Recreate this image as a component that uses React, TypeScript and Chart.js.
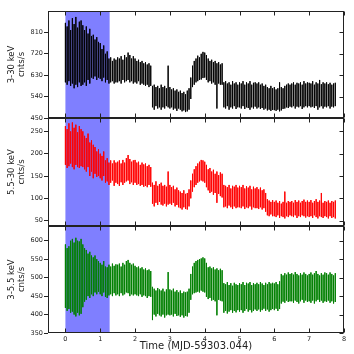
import React, { useEffect, useRef } from "react";
import { Chart, registerables } from "chart.js";

Chart.register(...registerables);

// time sampling of the light curves (days since MJD 59303.044)
const T_STEP = 0.05;
const SPAN_START = 0;
const SPAN_END = 1.27;
const X_MIN = -0.5;
const X_MAX = 8;
const X_TICKS = [0, 1, 2, 3, 4, 5, 6, 7, 8];
const X_TITLE = "Time (MJD-59303.044)";

// ---- 3-30 keV (upper / lower envelope per time bin) ----
const band1Hi = [
  850, 835, 860, 820, 870, 845, 875, 830, 855, 860,
  840, 820, 835, 805, 825, 795, 800, 780, 790, 770,
  765, 740, 755, 720, 730, 700, 705, 690, 700, 695,
  705, 700, 710, 695, 715, 705, 725, 715, 700, 710,
  700, 690, 695, 685, 690, 680, 685, 675, 680, 670,
  585, 590, 580, 585, 575, 590, 580, 585, 575, 670,
  580, 570, 575, 565, 570, 560, 565, 555, 560, 550,
  565, 575, 620, 670, 690, 700, 712, 705, 720, 728,
  725, 715, 700, 690, 695, 685, 690, 680, 685, 675,
  680, 600, 605, 595, 600, 590, 605, 595, 600, 590,
  600, 595, 605, 590, 600, 595, 605, 590, 598, 600,
  595, 600, 590, 595, 585, 590, 580, 575, 585, 575,
  580, 570, 575, 600, 580, 575, 585, 590, 595, 590,
  595, 600, 590, 598, 595, 600, 590, 605, 595, 600,
  598, 595, 605, 590, 600, 595, 610, 592, 600, 595,
  600, 592, 598, 590, 595, 598,
];
const band1Lo = [
  600, 590, 605, 585, 595, 575, 590, 580, 600, 585,
  590, 600, 585, 610, 595, 620, 615, 625, 610, 620,
  615, 605, 620, 600, 610, 595, 600, 605, 595, 600,
  600, 605, 595, 610, 600, 605, 610, 600, 605, 595,
  600, 595, 605, 590, 595, 590, 585, 590, 580, 585,
  495, 485, 500, 490, 495, 485, 495, 490, 500, 495,
  490, 495, 485, 490, 480, 490, 485, 478, 482, 475,
  478, 485, 530, 580, 590, 600, 605, 610, 612, 618,
  620, 610, 600, 605, 595, 600, 590, 490, 595, 590,
  590, 495, 490, 500, 485, 495, 490, 500, 488, 495,
  495, 490, 500, 488, 495, 492, 485, 495, 490, 498,
  490, 495, 488, 492, 485, 490, 482, 485, 480, 484,
  483, 480, 485, 478, 482, 488, 490, 495, 492, 498,
  495, 500, 490, 498, 495, 500, 488, 495, 500, 495,
  500, 495, 498, 492, 500, 485, 495, 500, 490, 498,
  495, 500, 490, 498, 495, 500,
];

// ---- 5.5-30 keV ----
const band2Hi = [
  262, 255, 268, 250, 270, 258, 265, 248, 262, 255,
  250, 240, 235, 245, 225, 230, 220, 215, 205, 210,
  200, 195, 205, 185, 190, 180, 185, 178, 185, 180,
  182, 185, 178, 186, 180, 190, 197, 188, 182, 185,
  186, 180, 182, 175, 180, 176, 178, 172, 175, 170,
  135, 130, 138, 128, 132, 135, 128, 130, 126, 160,
  130, 125, 128, 120, 124, 118, 115, 112, 118, 110,
  112, 120, 140, 155, 165, 172, 178, 182, 186, 185,
  182, 175, 165, 168, 160, 164, 155, 160, 152, 158,
  155, 130, 128, 125, 130, 122, 128, 126, 130, 124,
  128, 125, 130, 122, 127, 124, 128, 120, 126, 122,
  125, 120, 124, 118, 120, 112, 98, 95, 92, 96,
  92, 95, 90, 94, 88, 92, 115, 90, 94, 92,
  94, 90, 96, 92, 95, 90, 94, 97, 92, 95,
  92, 96, 90, 94, 98, 92, 95, 112, 90, 94,
  92, 95, 90, 94, 92, 95,
];
const band2Lo = [
  175, 168, 172, 178, 170, 165, 175, 170, 168, 172,
  170, 165, 160, 170, 150, 160, 145, 155, 148, 150,
  145, 140, 150, 135, 138, 130, 135, 140, 128, 135,
  132, 128, 136, 130, 135, 138, 140, 132, 136, 130,
  135, 130, 132, 128, 130, 126, 128, 125, 130, 126,
  88, 82, 90, 85, 92, 86, 84, 88, 82, 86,
  88, 85, 90, 82, 85, 80, 78, 75, 80, 76,
  75, 82, 100, 115, 125, 130, 135, 138, 140, 138,
  135, 125, 118, 112, 115, 108, 112, 90, 110, 105,
  102, 80, 82, 78, 84, 80, 76, 82, 78, 80,
  80, 78, 82, 76, 80, 78, 82, 75, 80, 78,
  78, 76, 80, 75, 78, 70, 62, 60, 64, 60,
  60, 58, 62, 56, 60, 58, 55, 60, 58, 62,
  60, 58, 62, 56, 60, 58, 62, 60, 57, 60,
  58, 60, 56, 62, 58, 55, 60, 58, 56, 60,
  58, 55, 60, 56, 58, 55,
];

// ---- 3-5.5 keV ----
const band3Hi = [
  590, 580, 585, 600, 605, 595, 608, 600, 598, 605,
  590, 580, 575, 565, 570, 560, 555, 560, 550, 545,
  540, 535, 545, 530, 528, 535, 530, 538, 532, 536,
  535, 538, 530, 540, 535, 545, 548, 540, 535, 538,
  532, 528, 530, 525, 528, 522, 525, 520, 522, 518,
  475, 470, 465, 472, 468, 465, 470, 462, 468, 515,
  468, 465, 470, 462, 466, 460, 465, 458, 462, 460,
  462, 470, 510, 530, 540, 545, 548, 550, 552, 555,
  552, 540, 528, 530, 525, 528, 522, 525, 520, 524,
  520, 485, 482, 488, 480, 485, 478, 486, 482, 480,
  485, 482, 488, 480, 486, 484, 488, 480, 485, 482,
  486, 482, 488, 484, 480, 486, 482, 488, 484, 486,
  484, 488, 482, 490, 510, 506, 512, 508, 514, 510,
  512, 508, 515, 510, 506, 512, 508, 514, 510, 506,
  510, 514, 508, 512, 518, 510, 506, 512, 508, 514,
  512, 508, 514, 510, 506, 512,
];
const band3Lo = [
  418, 410, 415, 405, 408, 400, 395, 405, 398, 402,
  420, 435, 440, 450, 445, 455, 450, 460, 455, 462,
  455, 450, 460, 448, 445, 452, 455, 450, 458, 452,
  455, 450, 458, 452, 455, 460, 458, 450, 455, 452,
  455, 452, 450, 455, 448, 452, 450, 445, 450, 448,
  385, 400, 395, 402, 398, 395, 400, 392, 398, 400,
  398, 400, 395, 402, 396, 398, 394, 398, 392, 396,
  395, 405, 440, 455, 458, 460, 462, 460, 465, 462,
  460, 448, 442, 445, 438, 440, 436, 398, 440, 438,
  436, 405, 410, 403, 408, 412, 405, 410, 406, 412,
  408, 412, 405, 410, 415, 408, 412, 406, 410, 414,
  410, 414, 408, 412, 416, 410, 414, 408, 412, 415,
  412, 416, 410, 415, 430, 435, 432, 438, 434, 436,
  436, 432, 438, 434, 430, 436, 440, 432, 438, 434,
  436, 432, 438, 430, 436, 440, 434, 438, 432, 436,
  434, 438, 432, 436, 430, 434,
];

const band1Ticks = [450, 540, 630, 720, 810];
const band2Ticks = [50, 100, 150, 200, 250];
const band3Ticks = [350, 400, 450, 500, 550, 600];

const FONT = "'DejaVu Sans', sans-serif";
const INK = "#222";

// one vertical stroke (lower to upper envelope) per time bin
function strokes(hi: number[], lo: number[]) {
  const pts: { x: number; y: number | null }[] = [];
  for (let i = 0; i < hi.length; i++) {
    const t = i * T_STEP;
    pts.push({ x: t, y: hi[i] });
    pts.push({ x: t, y: lo[i] });
    pts.push({ x: t, y: null });
  }
  return pts;
}

const framePlugin = {
  id: "frame",
  beforeDatasetsDraw(chart: any) {
    const { ctx, chartArea: a, scales } = chart;
    const x = scales.x;
    const x0 = x.getPixelForValue(SPAN_START);
    const x1 = x.getPixelForValue(SPAN_END);
    ctx.save();
    ctx.fillStyle = "rgba(0,0,255,0.5)";
    ctx.fillRect(x0, a.top, x1 - x0, a.bottom - a.top);
    ctx.restore();
  },
  afterDraw(chart: any) {
    const { ctx, chartArea: a, scales } = chart;
    const x = scales.x;
    const y = scales.y;
    ctx.save();
    ctx.strokeStyle = INK;
    ctx.lineWidth = 1;
    const L = Math.round(a.left) + 0.5;
    const R = Math.round(a.right) - 0.5;
    const T = Math.round(a.top) + 0.5;
    const B = Math.round(a.bottom) - 0.5;
    ctx.strokeRect(L, T, R - L, B - T);
    ctx.beginPath();
    for (const v of X_TICKS) {
      const px = Math.round(x.getPixelForValue(v)) + 0.5;
      ctx.moveTo(px, T);
      ctx.lineTo(px, T + 4);
      ctx.moveTo(px, B);
      ctx.lineTo(px, B - 4);
    }
    for (const tk of y.ticks) {
      const py = Math.round(y.getPixelForValue(tk.value)) + 0.5;
      ctx.moveTo(R, py);
      ctx.lineTo(R - 4, py);
    }
    ctx.stroke();
    ctx.restore();
  },
};

type PanelProps = {
  top: number;
  height: number;
  padTop: number;
  padBottom: number;
  hi: number[];
  lo: number[];
  color: string;
  yMin: number;
  yMax: number;
  yTicks: number[];
  title: string[];
  showX: boolean;
};

function Panel(p: PanelProps) {
  const ref = useRef<HTMLCanvasElement>(null);
  useEffect(() => {
    const chart = new Chart(ref.current as HTMLCanvasElement, {
      type: "line",
      data: {
        datasets: [
          {
            data: strokes(p.hi, p.lo),
            borderColor: p.color,
            borderWidth: 1,
            pointRadius: 0,
            tension: 0,
            fill: false,
            spanGaps: false,
          },
        ],
      },
      options: {
        animation: false,
        responsive: false,
        devicePixelRatio: 1,
        layout: { padding: { top: p.padTop, bottom: p.padBottom, left: 0, right: 10 } },
        plugins: { legend: { display: false }, tooltip: { enabled: false } },
        scales: {
          x: {
            type: "linear",
            min: X_MIN,
            max: X_MAX,
            display: p.showX,
            afterBuildTicks: (s: any) => {
              s.ticks = X_TICKS.map((v) => ({ value: v }));
            },
            afterFit: (s: any) => {
              if (p.showX) s.height = 21;
            },
            grid: { display: false, drawTicks: false },
            border: { display: false },
            ticks: { font: { size: 6.5, family: FONT }, color: INK, padding: 2, maxRotation: 0 },
            title: {
              display: true,
              text: X_TITLE,
              font: { size: 10, family: FONT },
              color: INK,
              padding: { top: 0, bottom: 2 },
            },
          },
          y: {
            type: "linear",
            min: p.yMin,
            max: p.yMax,
            afterBuildTicks: (s: any) => {
              s.ticks = p.yTicks.map((v) => ({ value: v }));
            },
            afterFit: (s: any) => {
              s.width = 48;
            },
            grid: { drawOnChartArea: false, drawTicks: true, tickLength: 4, tickColor: INK },
            border: { display: false },
            ticks: { font: { size: 6.5, family: FONT }, color: INK, padding: 1 },
            title: {
              display: true,
              text: p.title,
              font: { size: 8.5, family: FONT, lineHeight: 1.25 },
              color: INK,
              padding: { top: 6, bottom: 0 },
            },
          },
        },
      },
      plugins: [framePlugin],
    } as any);
    return () => chart.destroy();
  }, []);
  return (
    <canvas
      ref={ref}
      width={354}
      height={p.height}
      style={{ position: "absolute", left: 0, top: p.top, display: "block" }}
    />
  );
}

export default function App() {
  return (
    <div style={{ position: "absolute", left: 0, top: 0, width: 354, height: 354, background: "#fff" }}>
      <Panel
        top={0}
        height={124}
        padTop={11}
        padBottom={6}
        hi={band1Hi}
        lo={band1Lo}
        color="rgba(0,0,0,0.8)"
        yMin={450}
        yMax={900}
        yTicks={band1Ticks}
        title={["3-30 keV", "cnts/s"]}
        showX={false}
      />
      <Panel
        top={112}
        height={120}
        padTop={6}
        padBottom={6}
        hi={band2Hi}
        lo={band2Lo}
        color="rgba(255,0,0,0.85)"
        yMin={38}
        yMax={280}
        yTicks={band2Ticks}
        title={["5.5-30 keV", "cnts/s"]}
        showX={false}
      />
      <Panel
        top={220}
        height={134}
        padTop={6}
        padBottom={0}
        hi={band3Hi}
        lo={band3Lo}
        color="rgba(0,128,0,0.85)"
        yMin={350}
        yMax={640}
        yTicks={band3Ticks}
        title={["3-5.5 keV", "cnts/s"]}
        showX={true}
      />
    </div>
  );
}
